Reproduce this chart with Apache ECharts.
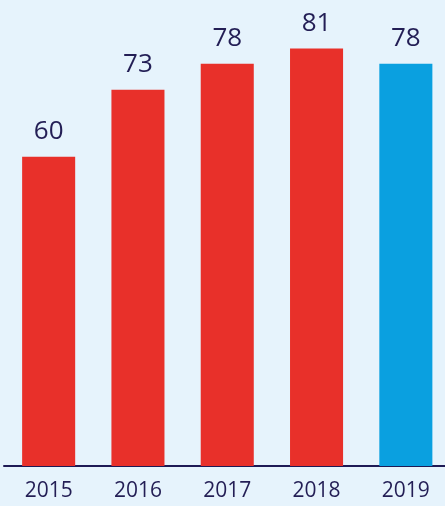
<!DOCTYPE html>
<html><head><meta charset="utf-8">
<script src="https://cdn.jsdelivr.net/npm/echarts@6/dist/echarts.min.js"></script>
<style>html,body{margin:0;padding:0;background:#E6F3FC;}#c{width:445px;height:506px;}</style>
</head><body><div id="c"></div>
<script>
const categories = ['2015','2016','2017','2018','2019'];
const values = [60, 73, 78, 81, 78];
const barColors = ['#E8302A','#E8302A','#E8302A','#E8302A','#0AA0E0'];
const chart = echarts.init(document.getElementById('c'));
chart.setOption({
  backgroundColor: '#E6F3FC',
  animation: false,
  grid: {left: 4, width: 446.5, top: 2, bottom: 40, outerBoundsMode: 'none', containLabel: false},
  xAxis: {
    type: 'category', data: categories,
    axisLine: {lineStyle: {color: '#1E1A55', width: 2}},
    axisTick: {show: false},
    axisLabel: {color: '#231E55', fontSize: 21, fontFamily: 'Open Sans', margin: 15}
  },
  yAxis: {type: 'value', min: 0, max: 90, show: false, splitLine: {show: false}},
  series: [{
    type: 'bar', barWidth: '59.4%',
    data: values.map((v, i) => ({value: v, itemStyle: {color: barColors[i]}})),
    label: {show: true, position: 'top', distance: 12, color: '#231E55', fontSize: 26, fontFamily: 'Open Sans'}
  }]
});
</script></body></html>
